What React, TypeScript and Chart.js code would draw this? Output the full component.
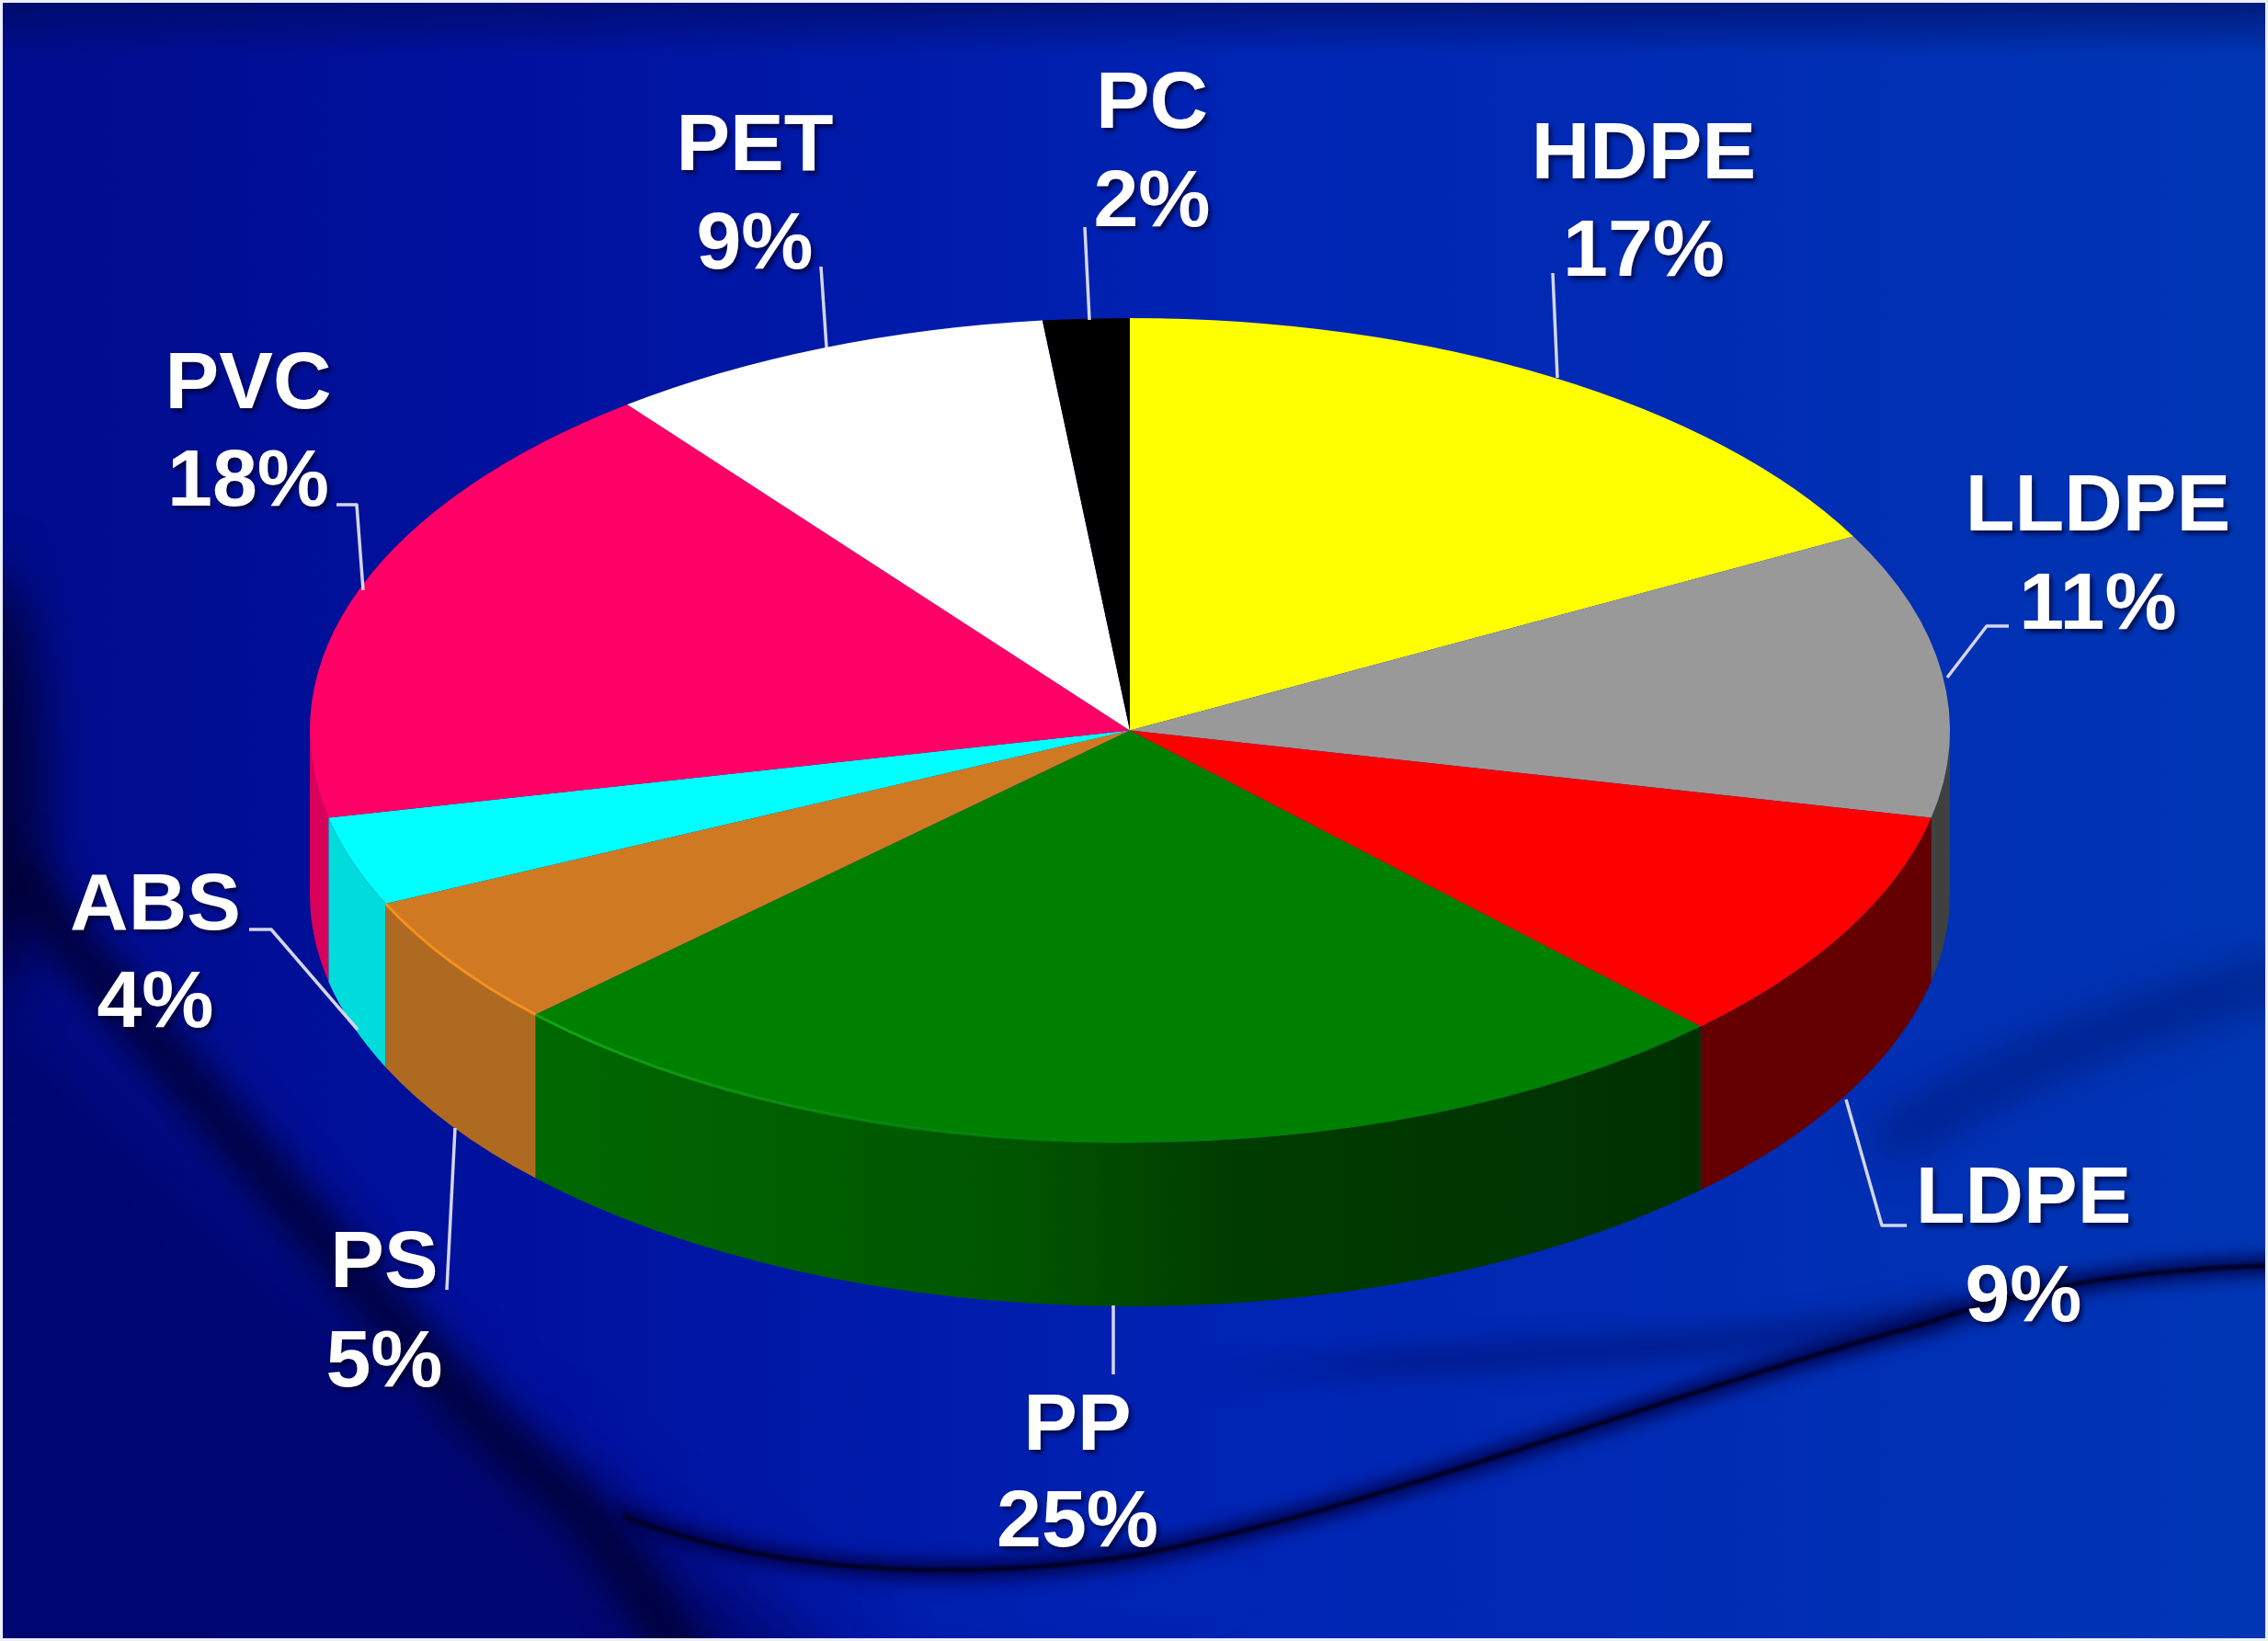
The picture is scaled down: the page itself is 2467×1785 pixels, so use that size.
import React, { useEffect, useRef } from "react";
import { Chart, registerables } from "chart.js";

Chart.register(...registerables);

const categories = ["HDPE", "LLDPE", "LDPE", "PP", "PS", "ABS", "PVC", "PET", "PC"];
const shares = [17.2, 11.2, 9.35, 25.15, 5.2, 3.5, 17.9, 8.8, 1.7];
const topColors = ["#ffff00", "#999999", "#ff0000", "#008000", "#cf7a22", "#00ffff", "#ff0066", "#ffffff", "#000000"];
const wallColors = ["#a0a000", "#404040", "#640000", "#005000", "#ae6a20", "#00dcdc", "#d80058", "#a0a0a0", "#000000"];

// label layout: centre x, first baseline, second baseline, leader polyline
const labelLayout: { x: number; y1: number; y2: number; leader: number[][] }[] = [
  { x: 1788, y1: 194, y2: 300, leader: [[1694, 411], [1689, 297]] },
  { x: 2282, y1: 577, y2: 684, leader: [[2118, 737], [2161, 681], [2185, 681]] },
  { x: 2201, y1: 1330, y2: 1437, leader: [[2008, 1196], [2047, 1333], [2074, 1333]] },
  { x: 1172, y1: 1577, y2: 1682, leader: [[1211, 1420], [1211, 1495]] },
  { x: 418, y1: 1400, y2: 1508, leader: [[495, 1227], [486, 1403]] },
  { x: 169, y1: 1011, y2: 1117, leader: [[389, 1120], [295, 1011], [271, 1011]] },
  { x: 270, y1: 444, y2: 550, leader: [[395, 642], [388, 549], [366, 549]] },
  { x: 821, y1: 185, y2: 292, leader: [[899, 378], [893, 290]] },
  { x: 1253, y1: 139, y2: 246, leader: [[1185, 348], [1180, 247]] },
];

const W = 2467;
const H = 1785;
const CENTER_Y = 794.5;
const RY = 448.5;
const DEPTH = 178;

function paintBackground(ctx: CanvasRenderingContext2D) {
  ctx.save();
  const base = ctx.createLinearGradient(0, 0, W, 0);
  base.addColorStop(0, "#000c8c");
  base.addColorStop(0.25, "#0012a0");
  base.addColorStop(0.55, "#0024b4");
  base.addColorStop(1, "#0036b4");
  ctx.fillStyle = base;
  ctx.fillRect(0, 0, W, H);

  const top = ctx.createLinearGradient(0, 0, 0, 60);
  top.addColorStop(0, "rgba(0,10,90,0.65)");
  top.addColorStop(1, "rgba(0,10,90,0)");
  ctx.fillStyle = top;
  ctx.fillRect(0, 0, W, 60);

  // dark soft patch on the left edge
  ctx.filter = "blur(30px)";
  ctx.fillStyle = "rgba(0,0,50,0.9)";
  ctx.beginPath();
  ctx.ellipse(-10, 860, 55, 240, 0, 0, Math.PI * 2);
  ctx.fill();

  // lower-left navy field
  ctx.filter = "blur(40px)";
  ctx.fillStyle = "rgba(0,6,110,0.9)";
  ctx.beginPath();
  ctx.moveTo(-80, 1000);
  ctx.bezierCurveTo(200, 1250, 420, 1500, 800, 1720);
  ctx.lineTo(1000, 1900);
  ctx.lineTo(-80, 1900);
  ctx.closePath();
  ctx.fill();

  // left swoosh
  ctx.filter = "blur(20px)";
  ctx.strokeStyle = "rgba(0,0,50,0.9)";
  ctx.lineWidth = 50;
  ctx.lineCap = "round";
  ctx.beginPath();
  ctx.moveTo(16, 949);
  ctx.bezierCurveTo(120, 1080, 300, 1290, 400, 1404);
  ctx.bezierCurveTo(480, 1495, 530, 1560, 620, 1630);
  ctx.bezierCurveTo(660, 1670, 700, 1730, 760, 1830);
  ctx.stroke();

  // bright sheet under the black line
  ctx.filter = "blur(22px)";
  ctx.strokeStyle = "rgba(0,46,190,0.55)";
  ctx.lineWidth = 22;
  ctx.beginPath();
  ctx.moveTo(980, 1748);
  ctx.bezierCurveTo(1060, 1756, 1150, 1756, 1320, 1730);
  ctx.stroke();

  // soft band, upper right
  ctx.filter = "blur(24px)";
  ctx.strokeStyle = "rgba(0,20,110,0.7)";
  ctx.lineWidth = 36;
  ctx.beginPath();
  ctx.moveTo(2490, 1062);
  ctx.bezierCurveTo(2320, 1105, 2180, 1160, 2060, 1240);
  ctx.stroke();

  // soft band above the main line
  ctx.filter = "blur(14px)";
  const bandPaint = ctx.createLinearGradient(1300, 0, 2100, 0);
  bandPaint.addColorStop(0, "rgba(0,10,90,0)");
  bandPaint.addColorStop(0.3, "rgba(0,10,90,0.55)");
  bandPaint.addColorStop(1, "rgba(0,10,90,0.6)");
  ctx.strokeStyle = bandPaint;
  ctx.lineWidth = 22;
  ctx.beginPath();
  ctx.moveTo(1300, 1500);
  ctx.bezierCurveTo(1550, 1470, 1850, 1480, 2120, 1425);
  ctx.stroke();

  // main thin dark line
  ctx.filter = "blur(9px)";
  ctx.strokeStyle = "rgba(0,0,70,0.9)";
  ctx.lineWidth = 20;
  const mainLine = () => {
    ctx.beginPath();
    ctx.moveTo(680, 1650);
    ctx.bezierCurveTo(860, 1720, 1080, 1716, 1233, 1692);
    ctx.bezierCurveTo(1500, 1640, 1800, 1520, 2099, 1438);
    ctx.bezierCurveTo(2220, 1395, 2340, 1380, 2490, 1376);
    ctx.stroke();
  };
  mainLine();
  ctx.filter = "blur(1.5px)";
  ctx.strokeStyle = "rgba(0,0,30,0.95)";
  ctx.lineWidth = 5;
  mainLine();
  ctx.restore();

  // thin light frame of the picture
  ctx.fillStyle = "#eef0f8";
  ctx.fillRect(0, 0, W, 3);
  ctx.fillRect(0, 0, 3, H);
  ctx.fillRect(0, H - 3, W, 3);
  ctx.fillRect(W - 3, 0, 3, H);
}

const pie3d = {
  id: "pie3d",
  beforeDraw(chart: any) {
    paintBackground(chart.ctx);
  },
  beforeDatasetsDraw(chart: any) {
    const ctx: CanvasRenderingContext2D = chart.ctx;
    const arcs = chart.getDatasetMeta(0).data;
    arcs.forEach((arc: any, i: number) => {
      const a = Math.max(arc.startAngle, 0);
      const b = Math.min(arc.endAngle, Math.PI);
      if (b <= a) return;
      const r = arc.outerRadius;
      ctx.beginPath();
      ctx.ellipse(arc.x, CENTER_Y, r, RY, 0, a, b);
      ctx.ellipse(arc.x, CENTER_Y + DEPTH, r, RY, 0, b, a, true);
      ctx.closePath();
      if (categories[i] === "PP") {
        const x0 = arc.x + r * Math.cos(b);
        const x1 = arc.x + r * Math.cos(a);
        const g = ctx.createLinearGradient(x0, 0, x1, 0);
        g.addColorStop(0, "#006800");
        g.addColorStop(0.4, "#005600");
        g.addColorStop(0.6, "#003c00");
        g.addColorStop(1, "#003000");
        ctx.fillStyle = g;
      } else {
        ctx.fillStyle = wallColors[i];
      }
      ctx.fill();
    });
    ctx.save();
    const y = arcs[0].y;
    ctx.translate(0, CENTER_Y);
    ctx.scale(1, RY / arcs[0].outerRadius);
    ctx.translate(0, -y);
  },
  afterDatasetsDraw(chart: any) {
    const ctx: CanvasRenderingContext2D = chart.ctx;
    ctx.restore();
    const arcs = chart.getDatasetMeta(0).data;

    // rim highlights
    const ps = arcs[categories.indexOf("PS")];
    ctx.strokeStyle = "#f59020";
    ctx.lineWidth = 3;
    ctx.beginPath();
    ctx.ellipse(ps.x, CENTER_Y, ps.outerRadius, RY, 0, ps.startAngle, ps.endAngle);
    ctx.stroke();
    const pp = arcs[categories.indexOf("PP")];
    const glow = ctx.createLinearGradient(582, 0, 1250, 0);
    glow.addColorStop(0, "rgba(20,165,20,1)");
    glow.addColorStop(1, "rgba(20,165,20,0)");
    ctx.strokeStyle = glow;
    ctx.beginPath();
    ctx.ellipse(pp.x, CENTER_Y, pp.outerRadius, RY, 0, pp.startAngle, pp.endAngle);
    ctx.stroke();

    // leader lines
    ctx.save();
    ctx.strokeStyle = "#d4d6ec";
    ctx.lineWidth = 3.5;
    ctx.lineJoin = "round";
    labelLayout.forEach((l) => {
      ctx.beginPath();
      l.leader.forEach(([x, y], j) => (j ? ctx.lineTo(x, y) : ctx.moveTo(x, y)));
      ctx.stroke();
    });
    ctx.restore();

    // labels
    ctx.save();
    ctx.font = 'bold 88px "Liberation Sans", Arial, sans-serif';
    ctx.textAlign = "center";
    ctx.textBaseline = "alphabetic";
    ctx.fillStyle = "#ffffff";
    ctx.shadowColor = "rgba(0,0,40,0.7)";
    ctx.shadowBlur = 5;
    ctx.shadowOffsetX = 3;
    ctx.shadowOffsetY = 4;
    ctx.filter = "blur(0.7px)";
    categories.forEach((name, i) => {
      const l = labelLayout[i];
      ctx.fillText(name, l.x, l.y1);
      ctx.fillText(`${Math.round(shares[i])}%`, l.x, l.y2);
    });
    ctx.restore();
  },
};

export default function App() {
  const ref = useRef<HTMLCanvasElement>(null);
  useEffect(() => {
    document.body.style.margin = "0";
    document.body.style.overflow = "hidden";
    const chart = new Chart(ref.current as HTMLCanvasElement, {
      type: "pie",
      data: {
        labels: categories,
        datasets: [{ data: shares, backgroundColor: topColors, borderWidth: 0, clip: false } as any],
      },
      options: {
        animation: false,
        responsive: false,
        devicePixelRatio: 1,
        layout: { padding: { left: 337, right: 346, top: 0, bottom: 1 } },
        plugins: { legend: { display: false }, tooltip: { enabled: false } },
      },
      plugins: [pie3d],
    });
    return () => chart.destroy();
  }, []);
  return (
    <canvas
      ref={ref}
      width={W}
      height={H}
      style={{ position: "fixed", left: 0, top: 0, width: W, height: H, display: "block" }}
    />
  );
}
